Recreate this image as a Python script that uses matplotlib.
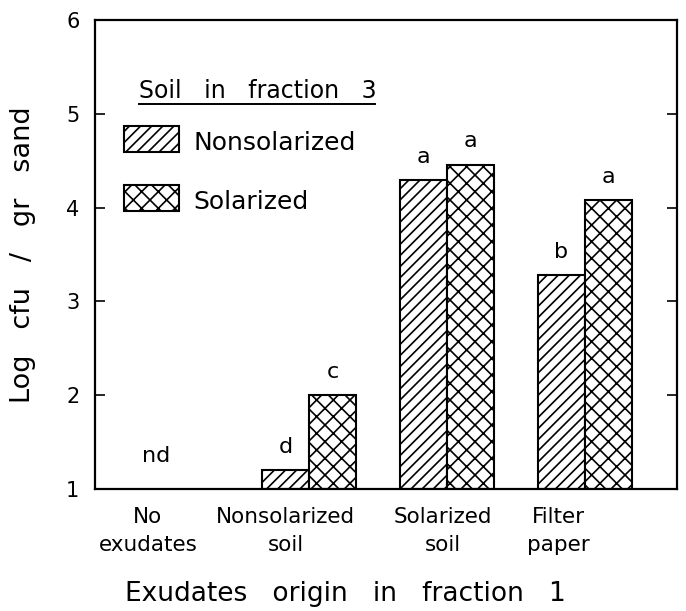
import numpy as np
import matplotlib
matplotlib.use('Agg')
import matplotlib.pyplot as plt
from matplotlib.patches import Rectangle

categories = ['No\nexudates', 'Nonsolarized\nsoil', 'Solarized\nsoil', 'Filter\npaper']
nonsolarized = [np.nan, 1.20, 4.29, 3.28]
solarized = [np.nan, 2.00, 4.46, 4.08]
letters_non = ['', 'd', 'a', 'b']
letters_sol = ['', 'c', 'a', 'a']
label_shift = [-0.17, -0.17, -0.03, -0.19]

plt.rcParams['font.family'] = 'DejaVu Sans'
plt.rcParams['hatch.linewidth'] = 1.2

fig = plt.figure(figsize=(6.86, 6.11), dpi=100)
ax = fig.add_axes([0.138, 0.2, 0.849, 0.767])

x = np.arange(len(categories))
w = 0.34
base = 1
ax.bar(x - w / 2, np.array(nonsolarized) - base, w, bottom=base, color='white',
       edgecolor='black', hatch='///', linewidth=1.5)
ax.bar(x + w / 2, np.array(solarized) - base, w, bottom=base, color='white',
       edgecolor='black', hatch='xx', linewidth=1.5)

for i in range(len(categories)):
    if letters_non[i]:
        ax.text(x[i] - w / 2, nonsolarized[i] + 0.14, letters_non[i], ha='center', va='bottom', fontsize=16)
    if letters_sol[i]:
        ax.text(x[i] + w / 2, solarized[i] + 0.14, letters_sol[i], ha='center', va='bottom', fontsize=16)
ax.text(x[0] - 0.11, 1.35, 'nd', ha='center', va='center', fontsize=16)

ax.set_xlim(-0.557, 3.67)
ax.set_ylim(1, 6)
ax.set_yticks([1, 2, 3, 4, 5, 6])
ax.set_xticks(x + np.array(label_shift))
ax.set_xticklabels(categories, fontsize=15.5, linespacing=1.5)
ax.tick_params(axis='x', length=0, pad=13)
ax.tick_params(axis='y', direction='in', length=7, width=1.2, labelsize=15, pad=11,
               right=True)
for s in ax.spines.values():
    s.set_linewidth(1.6)

ax.set_ylabel('Log   cfu   /   gr   sand', fontsize=19.5)
ax.yaxis.set_label_coords(-0.1, 0.5)
ax.set_xlabel('Exudates   origin   in   fraction   1', fontsize=19)
ax.xaxis.set_label_coords(0.43, -0.197)

# legend drawn by hand
ax.text(0.076, 0.834, 'Soil   in   fraction   3', transform=ax.transAxes, fontsize=17,
        ha='left', va='baseline')
ax.plot([0.076, 0.482], [0.822, 0.822], transform=ax.transAxes, color='black', lw=1.4)
ax.add_patch(Rectangle((0.050, 0.718), 0.094, 0.057, transform=ax.transAxes,
                       facecolor='white', edgecolor='black', hatch='///', lw=1.5))
ax.add_patch(Rectangle((0.050, 0.592), 0.094, 0.057, transform=ax.transAxes,
                       facecolor='white', edgecolor='black', hatch='xx', lw=1.5))
ax.text(0.170, 0.737, 'Nonsolarized', transform=ax.transAxes, fontsize=18, va='center')
ax.text(0.170, 0.612, 'Solarized', transform=ax.transAxes, fontsize=18, va='center')

fig.savefig('out.png', dpi=100)
